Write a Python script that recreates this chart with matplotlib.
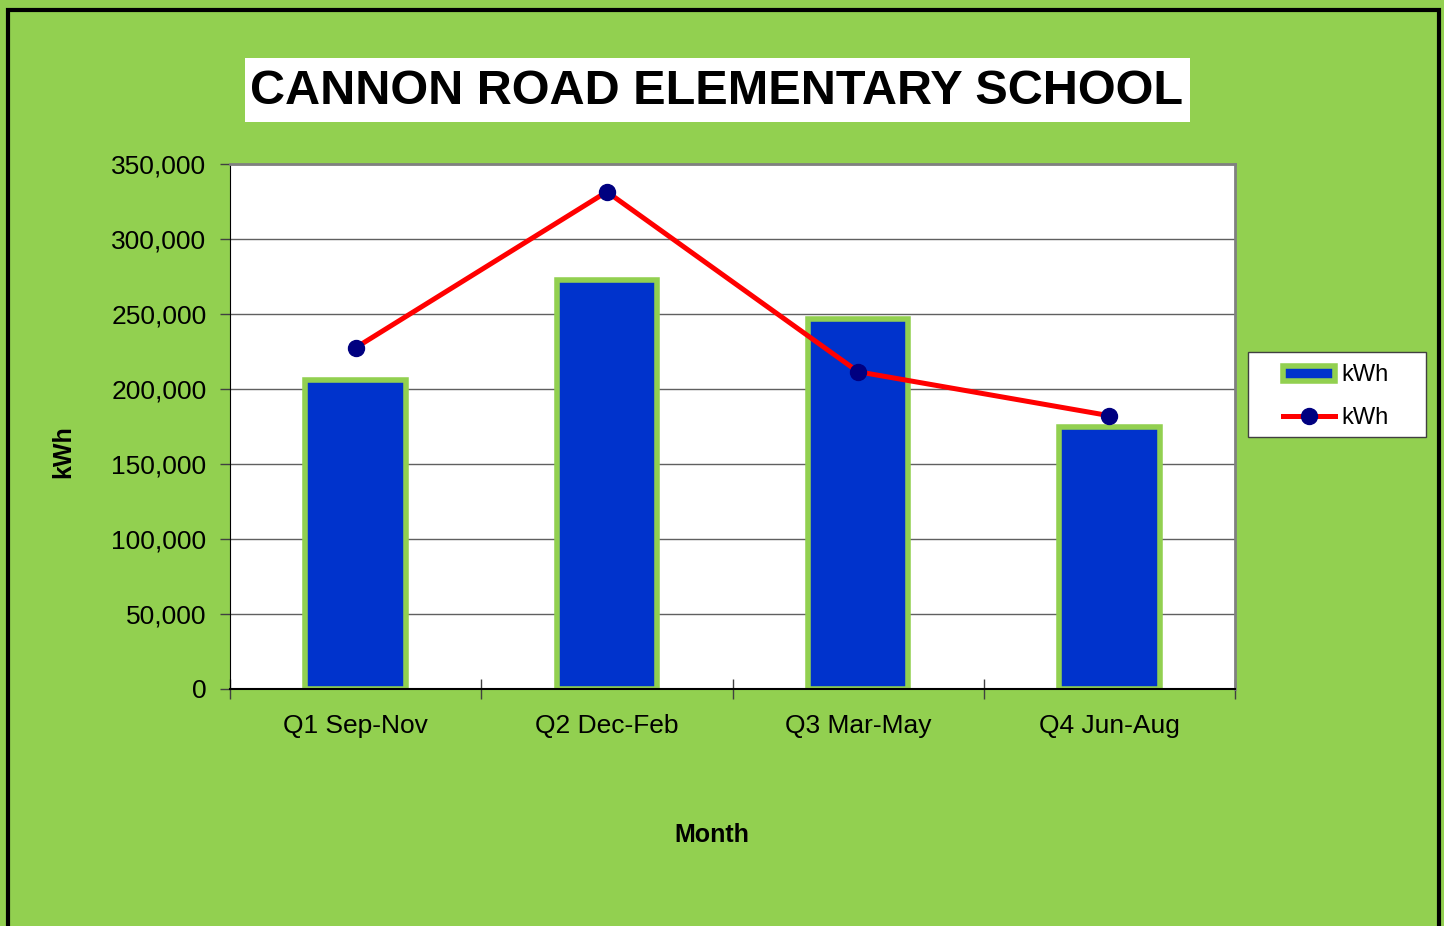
import matplotlib
matplotlib.use("Agg")
import matplotlib.pyplot as plt
from matplotlib.patches import Rectangle, Patch
from matplotlib.lines import Line2D
from matplotlib.ticker import FuncFormatter

categories = ["Q1 Sep-Nov", "Q2 Dec-Feb", "Q3 Mar-May", "Q4 Jun-Aug"]
bar_kwh = [205700, 272700, 246400, 174700]
line_kwh = [227500, 331500, 211500, 182200]
y_ticks = [0, 50000, 100000, 150000, 200000, 250000, 300000, 350000]

GREEN = "#92D050"
plt.rcParams["font.family"] = ["Liberation Sans", "DejaVu Sans"]

fig = plt.figure(figsize=(14.44, 9.26), dpi=100)
fig.patch.set_facecolor(GREEN)

# black frame round the chart area
fig.add_artist(Rectangle((8 / 1444, -0.05), 1431 / 1444, 1.05 - 9.5 / 926,
                         transform=fig.transFigure, fill=False,
                         edgecolor="black", linewidth=3))

ax = fig.add_axes([230 / 1444, 237 / 926, 1005 / 1444, 525 / 926])
ax.set_facecolor("white")
x = range(len(categories))

ax.bar(x, bar_kwh, width=0.40, color="#0033CC", edgecolor=GREEN,
       linewidth=4, zorder=2)
ax.plot(x, line_kwh, color="red", linewidth=3.6, marker="o",
        markersize=11.5, markerfacecolor="#000080",
        markeredgecolor="#000080", zorder=3)

ax.set_xlim(-0.5, 3.5)
ax.set_ylim(0, 350000)
ax.set_yticks(y_ticks)
ax.yaxis.set_major_formatter(FuncFormatter(lambda v, p: f"{int(v):,}"))
ax.set_axisbelow(True)
ax.yaxis.grid(True, color="#606060", linewidth=1)

ax.set_xticks(list(x))
ax.set_xticklabels(categories)
ax.set_xticks([-0.5, 0.5, 1.5, 2.5, 3.5], minor=True)
ax.tick_params(axis="x", which="major", length=0, pad=18, labelsize=19)
ax.tick_params(axis="x", which="minor", direction="inout", length=14,
               width=1, color="#404040")
ax.tick_params(axis="y", direction="out", length=7, width=1, pad=10,
               color="#404040", labelsize=19)

for side in ["top", "right"]:
    ax.spines[side].set_color("#808080")
    ax.spines[side].set_linewidth(2)
ax.spines["left"].set_color("black")
ax.spines["bottom"].set_color("black")
ax.spines["bottom"].set_linewidth(1.5)

fig.text(712 / 1444, 1 - 835 / 926, "Month", ha="center", va="center",
         fontsize=18, fontweight="bold")
fig.text(63 / 1444, 1 - 452 / 926, "kWh", ha="center", va="center",
         fontsize=18, fontweight="bold", rotation=90)

# title in a white box
fig.add_artist(Rectangle((245 / 1444, 1 - 122 / 926), 945 / 1444, 64 / 926,
                         transform=fig.transFigure, facecolor="white",
                         edgecolor="none"))
fig.text(717 / 1444, 1 - 91 / 926, "CANNON ROAD ELEMENTARY SCHOOL",
         ha="center", va="center", fontsize=35, fontweight="bold")

# legend box
fig.add_artist(Rectangle((1248 / 1444, 1 - 437 / 926), 178 / 1444, 85 / 926,
                         transform=fig.transFigure, facecolor="white",
                         edgecolor="#404040", linewidth=1))
handles = [Patch(facecolor="#0033CC", edgecolor=GREEN, linewidth=4),
           Line2D([], [], color="red", linewidth=3.6, marker="o",
                  markersize=11.5, markerfacecolor="#000080",
                  markeredgecolor="#000080")]
leg = fig.legend(handles, ["kWh", "kWh"], loc="center",
                 bbox_to_anchor=(1336 / 1444, 1 - 396.5 / 926),
                 fontsize=17, frameon=False,
                 handlelength=2.2, handleheight=0.6, labelspacing=0.85,
                 handletextpad=0.25)

fig.savefig("out.png", dpi=100, facecolor=GREEN)
